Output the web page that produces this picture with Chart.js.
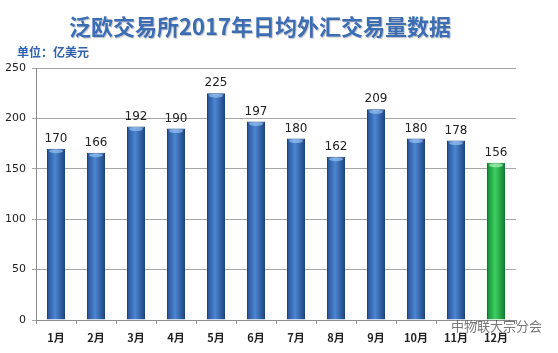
<!DOCTYPE html>
<html>
<head>
<meta charset="utf-8">
<script src="https://cdn.jsdelivr.net/npm/chart.js@4/dist/chart.umd.min.js"></script>
<style>
  html, body { margin: 0; padding: 0; background: #fff; }
  canvas { display: block; }
</style>
</head>
<body>
<canvas id="fxChart" width="558" height="353"></canvas>
<script>
const months = ['1月', '2月', '3月', '4月', '5月', '6月', '7月', '8月', '9月', '10月', '11月', '12月'];
const volumes = [170, 166, 192, 190, 225, 197, 180, 162, 209, 180, 178, 156];
const yTicks = [0, 50, 100, 150, 200, 250];

const titleText = '泛欧交易所2017年日均外汇交易量数据';
const unitText = '单位：亿美元';
const cjk = '"Noto Sans CJK SC", "Noto Sans", sans-serif';

const isLast = i => i === volumes.length - 1;

// shades the bars left-to-right like the original 3D-ish columns
const barShade = {
  id: 'barShade',
  beforeDatasetsDraw(chart) {
    const ctx = chart.ctx;
    const meta = chart.getDatasetMeta(0);
    meta.data.forEach((bar, i) => {
      const half = bar.width / 2;
      const g = ctx.createLinearGradient(bar.x - half, 0, bar.x + half, 0);
      if (isLast(i)) {
        g.addColorStop(0, '#138a36');
        g.addColorStop(0.45, '#3fcf60');
        g.addColorStop(1, '#0f7e30');
      } else {
        g.addColorStop(0, '#244f93');
        g.addColorStop(0.45, '#4d86d2');
        g.addColorStop(1, '#1d437f');
      }
      bar.options.backgroundColor = g;
    });
  },
  afterDatasetsDraw(chart) {
    const ctx = chart.ctx;
    const meta = chart.getDatasetMeta(0);
    ctx.save();
    meta.data.forEach((bar, i) => {
      // light cap on top of each bar
      ctx.fillStyle = isLast(i) ? 'rgba(170,245,185,0.7)' : 'rgba(150,195,245,0.7)';
      ctx.beginPath();
      ctx.ellipse(bar.x, bar.y + 2.5, bar.width / 2 - 2, 2, 0, 0, Math.PI * 2);
      ctx.fill();

      ctx.fillStyle = '#222';
      ctx.font = '12px "DejaVu Sans", sans-serif';
      ctx.textAlign = 'center';
      ctx.textBaseline = 'bottom';
      ctx.fillText(volumes[i], bar.x, bar.y - 4);
    });
    ctx.restore();
  },
  afterDraw(chart) {
    const ctx = chart.ctx;
    ctx.save();
    ctx.textAlign = 'center';
    ctx.textBaseline = 'middle';
    ctx.font = 'bold 22px ' + cjk;
    ctx.shadowColor = 'rgba(0,0,0,0.25)';
    ctx.shadowOffsetX = 1;
    ctx.shadowOffsetY = 1;
    ctx.shadowBlur = 1;
    ctx.fillStyle = '#3b6db5';
    ctx.fillText(titleText, 260, 27);
    ctx.shadowColor = 'transparent';

    ctx.textAlign = 'left';
    ctx.font = 'bold 12px ' + cjk;
    ctx.fillStyle = '#2f63ad';
    ctx.fillText(unitText, 17, 52);

    // faint watermark text
    ctx.font = '13px ' + cjk;
    ctx.fillStyle = 'rgba(60,60,60,0.7)';
    ctx.fillText('中物联大宗分会', 451, 326);
    ctx.restore();
  }
};

new Chart(document.getElementById('fxChart').getContext('2d'), {
  type: 'bar',
  data: {
    labels: months,
    datasets: [{
      data: volumes,
      // scriptable so each bar gets its own options object
      backgroundColor: c => isLast(c.dataIndex) ? '#2fb04e' : '#3d72bd',
      borderColor: c => isLast(c.dataIndex) ? '#0e7a2d' : '#1d437f',
      borderWidth: 1,
      categoryPercentage: 1,
      barPercentage: 0.45
    }]
  },
  options: {
    responsive: false,
    animation: false,
    layout: { padding: { top: 68, right: 42, bottom: 0, left: 0 } },
    plugins: {
      legend: { display: false },
      tooltip: { enabled: false },
      title: { display: false }
    },
    scales: {
      x: {
        afterFit: s => { s.height = 33; },
        grid: {
          offset: true,
          drawOnChartArea: false,
          tickLength: 4,
          color: '#8c8c8c'
        },
        border: { color: '#8c8c8c' },
        ticks: {
          padding: 7,
          color: '#222',
          font: { family: cjk, size: 11, weight: 'bold' }
        }
      },
      y: {
        min: 0,
        max: 250,
        afterFit: s => { s.width = 36; },
        afterBuildTicks: s => { s.ticks = yTicks.map(v => ({ value: v })); },
        grid: {
          color: '#a6a6a6',
          tickLength: 4
        },
        border: { color: '#8c8c8c' },
        ticks: {
          padding: 6,
          color: '#222',
          font: { family: '"DejaVu Sans", sans-serif', size: 11 }
        }
      }
    }
  },
  plugins: [barShade]
});
</script>
</body>
</html>
